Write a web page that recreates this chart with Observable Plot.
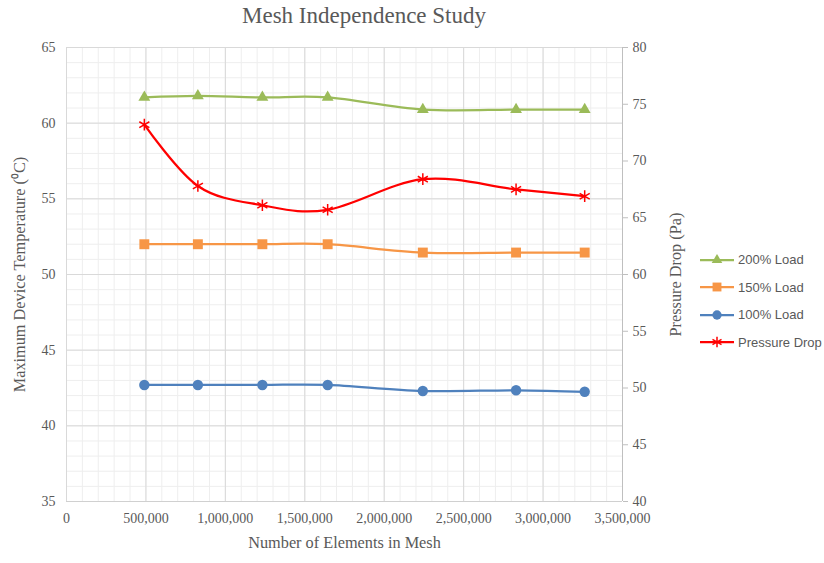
<!DOCTYPE html>
<html>
<head>
<meta charset="utf-8">
<script src="https://cdn.jsdelivr.net/npm/d3@7"></script>
<script src="https://cdn.jsdelivr.net/npm/@observablehq/plot@0.6"></script>
<style>
  body { margin: 0; background: #fff; }
  #wrap { position: relative; width: 824px; height: 563px; overflow: hidden; }
  #title { position: absolute; left: 0; top: 3px; width: 728px; text-align: center;
           font-family: "Liberation Serif", serif; font-size: 23px; color: #595959; }
  #legend { position: absolute; left: 700px; top: 246px;
            font-family: "Liberation Sans", sans-serif; font-size: 13px; color: #595959; }
  .item { display: flex; align-items: center; height: 27.5px; }
  .item svg { margin-right: 2px; }
  #chart svg text { font-family: "Liberation Serif", serif; }
  #chart svg g[aria-label$="axis label"] text { font-size: 16.3px; }
</style>
</head>
<body>
<div id="wrap">
  <div id="title">Mesh Independence Study</div>
  <div id="chart"></div>
  <div id="legend"></div>
</div>
<script>
// Mesh sizes (number of elements) for each simulation run
const meshElements = [490000, 827000, 1233000, 1644000, 2243000, 2830000, 3262000];
// Maximum device temperature (°C) per load case
const load200 = [61.7, 61.8, 61.7, 61.7, 60.9, 60.9, 60.9];
const load150 = [52.0, 52.0, 52.0, 52.0, 51.45, 51.45, 51.45];
const load100 = [42.7, 42.7, 42.7, 42.7, 42.3, 42.35, 42.25];
// Pressure drop (Pa), plotted on the secondary axis
const pressureDrop = [73.2, 67.8, 66.1, 65.7, 68.4, 67.5, 66.9];

// Axis ticks
const xTicks = [0, 500000, 1000000, 1500000, 2000000, 2500000, 3000000, 3500000];
const tempTicks = [35, 40, 45, 50, 55, 60, 65];
const pressureTicks = [40, 45, 50, 55, 60, 65, 70, 75, 80];

// Secondary axis (40–80 Pa) shares the frame with the primary (35–65 °C)
const tempDomain = [35, 65];
const pressureDomain = [40, 80];
const toTemp = p => tempDomain[0] + (p - pressureDomain[0]) * (tempDomain[1] - tempDomain[0]) / (pressureDomain[1] - pressureDomain[0]);
const toPressure = t => pressureDomain[0] + (t - tempDomain[0]) * (pressureDomain[1] - pressureDomain[0]) / (tempDomain[1] - tempDomain[0]);

const series = [
  {name: "200% Load", values: load200, color: "#9BBB59", symbol: "triangle", r: 4.4, mapY: v => v},
  {name: "150% Load", values: load150, color: "#F79646", symbol: "square", r: 5.6, mapY: v => v},
  {name: "100% Load", values: load100, color: "#4F81BD", symbol: "circle", r: 5.2, mapY: v => v},
  {name: "Pressure Drop", values: pressureDrop, color: "#FF0000", symbol: "asterisk", r: 5.5, mapY: toTemp}
];

const rows = series.flatMap(s => s.values.map((v, i) => ({series: s.name, x: meshElements[i], y: s.mapY(v)})));

const minorX = d3.range(0, 3500001, 100000);
const minorY = d3.range(35, 66, 1);
const serif = '"Liberation Serif", serif';

const marks = [
  Plot.gridX(minorX, {stroke: "#eeeeee", strokeOpacity: 1}),
  Plot.gridY(minorY, {stroke: "#eeeeee", strokeOpacity: 1}),
  Plot.gridX(xTicks, {stroke: "#d9d9d9", strokeOpacity: 1}),
  Plot.gridY(tempTicks, {stroke: "#d9d9d9", strokeOpacity: 1}),
  Plot.ruleX([xTicks[xTicks.length - 1]], {stroke: "#bfbfbf"}),
  Plot.ruleY([tempDomain[0]], {stroke: "#d0d0d0"}),
  Plot.axisX(xTicks, {
    tickSize: 0, tickPadding: 12, tickFormat: d3.format(","), fontFamily: serif,
    label: "Number of Elements in Mesh", labelAnchor: "center", labelArrow: "none", labelOffset: 46
  }),
  Plot.axisY(tempTicks, {
    anchor: "left", tickSize: 0, tickPadding: 11, fontFamily: serif,
    label: "Maximum Device Temperature (⁰C)", labelAnchor: "center", labelArrow: "none", labelOffset: 53
  }),
  Plot.axisY(pressureTicks.map(toTemp), {
    anchor: "right", tickSize: 5, tickPadding: 5, stroke: "#bfbfbf", fontFamily: serif,
    tickFormat: t => String(Math.round(toPressure(t))),
    label: "Pressure Drop (Pa)", labelAnchor: "center", labelArrow: "none", labelOffset: 58
  })
];

for (const s of series) {
  const data = rows.filter(d => d.series === s.name);
  marks.push(Plot.line(data, {x: "x", y: "y", stroke: s.color, strokeWidth: 2.25, curve: "cardinal"}));
  if (s.symbol === "asterisk") {
    marks.push(Plot.dot(data, {x: "x", y: "y", symbol: s.symbol, r: s.r, stroke: s.color, strokeWidth: 1.5}));
  } else {
    marks.push(Plot.dot(data, {x: "x", y: "y", symbol: s.symbol, r: s.r, fill: s.color, stroke: "none"}));
  }
}

const chart = Plot.plot({
  width: 824,
  height: 563,
  marginLeft: 66,
  marginRight: 202,
  marginTop: 47,
  marginBottom: 62,
  x: {domain: [0, 3500000]},
  y: {domain: tempDomain},
  style: {fontFamily: serif, fontSize: "14px", color: "#595959", background: "white", overflow: "visible"},
  marks
});
document.getElementById("chart").appendChild(chart);

// Legend, listed in the same order as the series
const legend = d3.select("#legend");
for (const s of series) {
  const item = legend.append("div").attr("class", "item");
  const svg = item.append("svg").attr("width", 36).attr("height", 14);
  svg.append("line").attr("x1", 0).attr("x2", 34).attr("y1", 7).attr("y2", 7)
    .attr("stroke", s.color).attr("stroke-width", 2.25);
  const sym = {triangle: d3.symbolTriangle, square: d3.symbolSquare, circle: d3.symbolCircle, asterisk: d3.symbolAsterisk}[s.symbol];
  const path = svg.append("path").attr("transform", "translate(17,7)")
    .attr("d", d3.symbol(sym, Math.PI * s.r * s.r * 0.8)());
  if (s.symbol === "asterisk") path.attr("fill", "none").attr("stroke", s.color).attr("stroke-width", 1.5);
  else path.attr("fill", s.color);
  item.append("span").text(s.name);
}
</script>
</body>
</html>
